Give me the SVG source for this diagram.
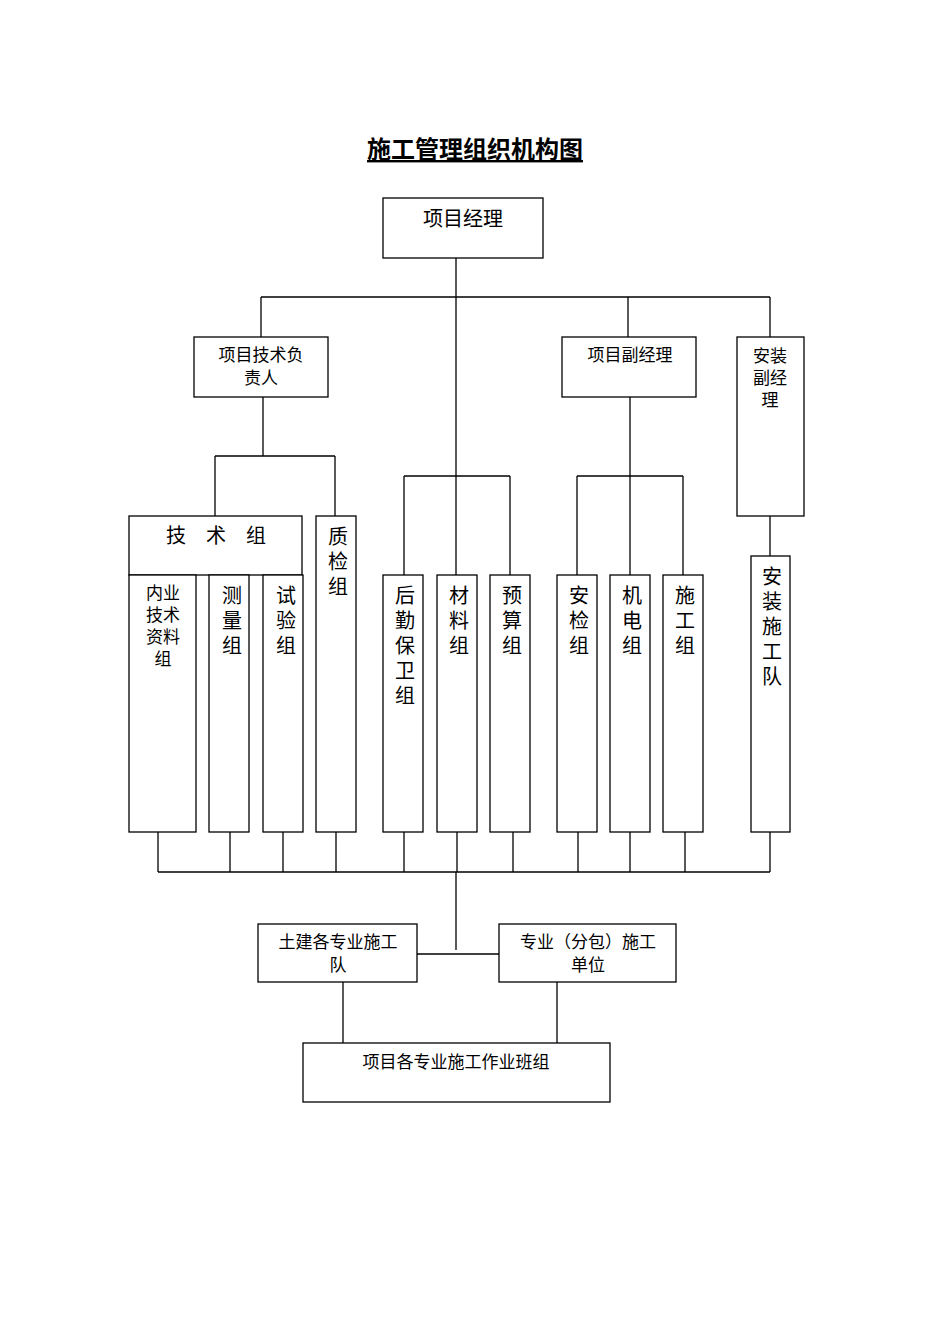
<svg xmlns="http://www.w3.org/2000/svg" width="950" height="1344" viewBox="0 0 950 1344">
<style>
rect{fill:#fff;stroke:#000;stroke-width:1.3}
line{stroke:#000;stroke-width:1.3}
text{font-family:"Liberation Serif","Noto Sans CJK SC",serif;fill:#000;text-anchor:middle}
.s{font-size:17px}.m{font-size:20px}
</style>
<rect width="950" height="1344" style="stroke:none"/>
<text x="475" y="158" style="font-size:24px;font-weight:bold;text-decoration:underline">施工管理组织机构图</text>
<g id="connectors">
<line x1="456" y1="258" x2="456" y2="575"/>
<line x1="261" y1="297" x2="770" y2="297"/>
<line x1="261" y1="297" x2="261" y2="337"/>
<line x1="628" y1="297" x2="628" y2="337"/>
<line x1="770" y1="297" x2="770" y2="337"/>
<line x1="263" y1="397" x2="263" y2="456"/>
<line x1="215" y1="456" x2="335" y2="456"/>
<line x1="215" y1="456" x2="215" y2="516"/>
<line x1="335" y1="456" x2="335" y2="516"/>
<line x1="404" y1="476" x2="510" y2="476"/>
<line x1="404" y1="476" x2="404" y2="575"/>
<line x1="510" y1="476" x2="510" y2="575"/>
<line x1="630" y1="397" x2="630" y2="575"/>
<line x1="577" y1="476" x2="683" y2="476"/>
<line x1="577" y1="476" x2="577" y2="575"/>
<line x1="683" y1="476" x2="683" y2="575"/>
<line x1="770" y1="516" x2="770" y2="556"/>
<line x1="158" y1="872" x2="770" y2="872"/>
<line x1="158" y1="832" x2="158" y2="872"/>
<line x1="230" y1="832" x2="230" y2="872"/>
<line x1="283" y1="832" x2="283" y2="872"/>
<line x1="336" y1="832" x2="336" y2="872"/>
<line x1="404" y1="832" x2="404" y2="872"/>
<line x1="457" y1="832" x2="457" y2="872"/>
<line x1="513" y1="832" x2="513" y2="872"/>
<line x1="578" y1="832" x2="578" y2="872"/>
<line x1="630" y1="832" x2="630" y2="872"/>
<line x1="685" y1="832" x2="685" y2="872"/>
<line x1="770" y1="832" x2="770" y2="872"/>
<line x1="456" y1="872" x2="456" y2="950"/>
<line x1="417" y1="954" x2="499" y2="954"/>
<line x1="343" y1="982" x2="343" y2="1043"/>
<line x1="557" y1="982" x2="557" y2="1043"/>
</g>
<g id="pm"><rect x="383" y="198" width="160" height="60"/><text class="m" x="463" y="226">项目经理</text></g>
<g id="tech"><rect x="194" y="337" width="134" height="60"/><text class="s" x="261" y="361">项目技术负</text><text class="s" x="261" y="384">责人</text></g>
<g id="dpm"><rect x="562" y="337" width="134" height="60"/><text class="s" x="630" y="361">项目副经理</text></g>
<g id="ipm"><rect x="737" y="337" width="67" height="179"/><text class="s" x="770" y="362">安装</text><text class="s" x="770" y="384">副经</text><text class="s" x="770" y="406">理</text></g>
<g id="jishu"><rect x="129" y="516" width="173" height="59"/><text class="m" x="216" y="543" xml:space="preserve">技　术　组</text></g>
<g id="neiye"><rect x="129" y="575" width="67" height="257"/><text class="s" x="163" y="599">内业</text><text class="s" x="163" y="621">技术</text><text class="s" x="163" y="643">资料</text><text class="s" x="163" y="665">组</text></g>
<g id="celiang"><rect x="209" y="575" width="40" height="257"/><text class="m" x="232" y="603">测</text><text class="m" x="232" y="628">量</text><text class="m" x="232" y="653">组</text></g>
<g id="shiyan"><rect x="263" y="575" width="40" height="257"/><text class="m" x="286" y="603">试</text><text class="m" x="286" y="628">验</text><text class="m" x="286" y="653">组</text></g>
<g id="zhijian"><rect x="316" y="516" width="40" height="316"/><text class="m" x="338" y="544">质</text><text class="m" x="338" y="569">检</text><text class="m" x="338" y="594">组</text></g>
<g id="houqin"><rect x="383" y="575" width="40" height="257"/><text class="m" x="405" y="603">后</text><text class="m" x="405" y="628">勤</text><text class="m" x="405" y="653">保</text><text class="m" x="405" y="678">卫</text><text class="m" x="405" y="703">组</text></g>
<g id="cailiao"><rect x="437" y="575" width="40" height="257"/><text class="m" x="459" y="603">材</text><text class="m" x="459" y="628">料</text><text class="m" x="459" y="653">组</text></g>
<g id="yusuan"><rect x="490" y="575" width="40" height="257"/><text class="m" x="512" y="603">预</text><text class="m" x="512" y="628">算</text><text class="m" x="512" y="653">组</text></g>
<g id="anjian"><rect x="557" y="575" width="40" height="257"/><text class="m" x="579" y="603">安</text><text class="m" x="579" y="628">检</text><text class="m" x="579" y="653">组</text></g>
<g id="jidian"><rect x="610" y="575" width="40" height="257"/><text class="m" x="632" y="603">机</text><text class="m" x="632" y="628">电</text><text class="m" x="632" y="653">组</text></g>
<g id="shigong"><rect x="663" y="575" width="40" height="257"/><text class="m" x="685" y="603">施</text><text class="m" x="685" y="628">工</text><text class="m" x="685" y="653">组</text></g>
<g id="anzhuang"><rect x="751" y="556" width="39" height="276"/><text class="m" x="772" y="584">安</text><text class="m" x="772" y="609">装</text><text class="m" x="772" y="634">施</text><text class="m" x="772" y="659">工</text><text class="m" x="772" y="684">队</text></g>
<g id="tujian"><rect x="258" y="924" width="159" height="58"/><text class="s" x="338" y="948">土建各专业施工</text><text class="s" x="338" y="971">队</text></g>
<g id="fenbao"><rect x="499" y="924" width="177" height="58"/><text class="s" x="588" y="948">专业（分包）施工</text><text class="s" x="588" y="971">单位</text></g>
<g id="banzu"><rect x="303" y="1043" width="307" height="59"/><text class="s" x="456" y="1068">项目各专业施工作业班组</text></g>
</svg>
